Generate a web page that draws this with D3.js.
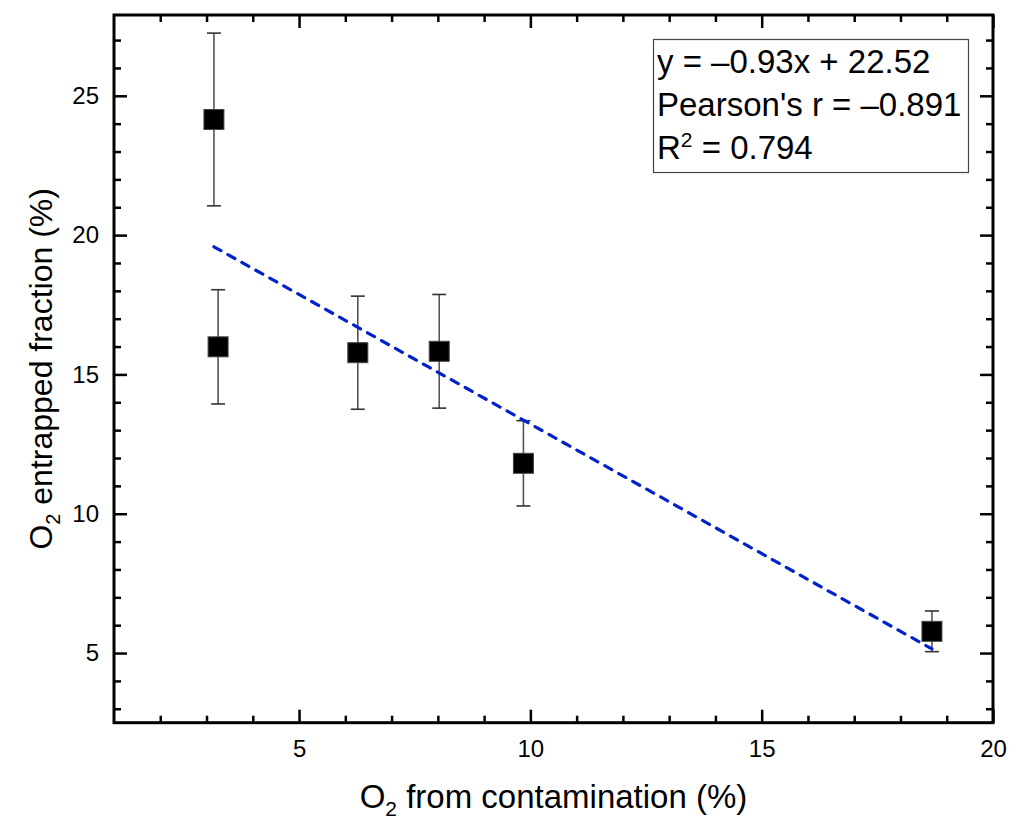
<!DOCTYPE html>
<html>
<head>
<meta charset="utf-8">
<script src="https://cdn.jsdelivr.net/npm/d3@7"></script>
<style>
  body { margin: 0; background: #fff; }
  svg { display: block; font-family: "Liberation Sans", Arial, sans-serif; }
</style>
</head>
<body>
<div id="chart"></div>
<script>
// O2 from contamination (%) vs O2 entrapped fraction (%)
const xVals = [3.16, 3.25, 6.27, 8.03, 9.85, 18.68]
const yVals = [24.15, 15.99, 15.78, 15.83, 11.81, 5.78]
const yErr = [3.1, 2.05, 2.03, 2.04, 1.53, 0.73]

const fitSlope = -0.93
const fitIntercept = 22.52
const statLines = ['y = \u20130.93x + 22.52', "Pearson's r = \u20130.891", 'R2 = 0.794']

const xTicks = [5, 10, 15, 20]
const yTicks = [5, 10, 15, 20, 25]
const xMinor = [2, 3, 4, 6, 7, 8, 9, 11, 12, 13, 14, 16, 17, 18, 19]
const yMinor = [3, 4, 6, 7, 8, 9, 11, 12, 13, 14, 16, 17, 18, 19, 21, 22, 23, 24, 26, 27]

const width = 1028, height = 839
const mLeft = 114, mRight = 993, mTop = 15, mBottom = 722.7

const x = d3.scaleLinear().domain([1, 20]).range([mLeft, mRight])
const y = d3.scaleLinear().domain([2.5, 27.9]).range([mBottom, mTop])

const svg = d3.select('#chart').append('svg')
    .attr('width', width)
    .attr('height', height)

const points = xVals.map((v, i) => ({x: v, y: yVals[i], e: yErr[i]}))

// axes: major + minor ticks on all four sides, pointing inward
function styleAxis(g) {
    g.select('.domain').remove()
    g.selectAll('.tick line').attr('stroke', '#000').attr('stroke-width', 2.5)
    g.selectAll('.tick text').attr('fill', '#000').style('font-size', '24px')
}

svg.append('g').attr('transform', `translate(0,${mBottom})`)
    .call(d3.axisBottom(x).tickValues(xTicks).tickSize(-13).tickPadding(17).tickFormat(d3.format('d')))
    .call(styleAxis)
svg.append('g').attr('transform', `translate(0,${mBottom})`)
    .call(d3.axisBottom(x).tickValues(xMinor).tickSize(-7).tickFormat(''))
    .call(styleAxis)
svg.append('g').attr('transform', `translate(0,${mTop})`)
    .call(d3.axisTop(x).tickValues(xTicks).tickSize(-13).tickFormat(''))
    .call(styleAxis)
svg.append('g').attr('transform', `translate(0,${mTop})`)
    .call(d3.axisTop(x).tickValues(xMinor).tickSize(-7).tickFormat(''))
    .call(styleAxis)

svg.append('g').attr('transform', `translate(${mLeft},0)`)
    .call(d3.axisLeft(y).tickValues(yTicks).tickSize(-13).tickPadding(15).tickFormat(d3.format('d')))
    .call(styleAxis)
svg.append('g').attr('transform', `translate(${mLeft},0)`)
    .call(d3.axisLeft(y).tickValues(yMinor).tickSize(-7).tickFormat(''))
    .call(styleAxis)
svg.append('g').attr('transform', `translate(${mRight},0)`)
    .call(d3.axisRight(y).tickValues(yTicks).tickSize(-13).tickFormat(''))
    .call(styleAxis)
svg.append('g').attr('transform', `translate(${mRight},0)`)
    .call(d3.axisRight(y).tickValues(yMinor).tickSize(-7).tickFormat(''))
    .call(styleAxis)

// frame
svg.append('rect')
    .attr('x', mLeft).attr('y', mTop)
    .attr('width', mRight - mLeft).attr('height', mBottom - mTop)
    .attr('fill', 'none').attr('stroke', '#000').attr('stroke-width', 3)

// error bars
const eb = svg.append('g')
eb.selectAll('line.stem').data(points).enter().append('line')
    .attr('class', 'stem')
    .attr('x1', d => x(d.x)).attr('x2', d => x(d.x))
    .attr('y1', d => y(d.y + d.e)).attr('y2', d => y(d.y - d.e))
    .attr('stroke', '#555').attr('stroke-width', 1.6)
eb.selectAll('line.capt').data(points).enter().append('line')
    .attr('class', 'capt')
    .attr('x1', d => x(d.x) - 7).attr('x2', d => x(d.x) + 7)
    .attr('y1', d => y(d.y + d.e)).attr('y2', d => y(d.y + d.e))
    .attr('stroke', '#333').attr('stroke-width', 1.6)
eb.selectAll('line.capb').data(points).enter().append('line')
    .attr('class', 'capb')
    .attr('x1', d => x(d.x) - 7).attr('x2', d => x(d.x) + 7)
    .attr('y1', d => y(d.y - d.e)).attr('y2', d => y(d.y - d.e))
    .attr('stroke', '#333').attr('stroke-width', 1.6)

// linear fit
const x0 = d3.min(xVals), x1 = d3.max(xVals)
svg.append('line')
    .attr('x1', x(x0)).attr('y1', y(fitSlope * x0 + fitIntercept))
    .attr('x2', x(x1)).attr('y2', y(fitSlope * x1 + fitIntercept))
    .attr('stroke', '#0022c8').attr('stroke-width', 3.2)
    .attr('stroke-dasharray', '8,8').attr('stroke-linecap', 'round')

// markers
const sq = 20
svg.append('g').selectAll('rect').data(points).enter().append('rect')
    .attr('x', d => x(d.x) - sq / 2).attr('y', d => y(d.y) - sq / 2)
    .attr('width', sq).attr('height', sq)
    .attr('fill', '#000').attr('stroke', '#444').attr('stroke-width', 1)

// stats box
svg.append('rect')
    .attr('x', 653.5).attr('y', 39.5).attr('width', 315).attr('height', 133)
    .attr('fill', '#fff').attr('stroke', '#444').attr('stroke-width', 1.2)
const stats = svg.append('g').style('font-size', '33px').attr('fill', '#000')
statLines.forEach((s, i) => {
    const t = stats.append('text').attr('x', 657).attr('y', 73 + i * 43)
    if (s.startsWith('R2')) {
        t.append('tspan').text('R')
        t.append('tspan').attr('dy', -12).style('font-size', '21px').text('2')
        t.append('tspan').attr('dy', 12).text(' = 0.794')
    } else {
        t.text(s)
    }
})

// axis titles
const xt = svg.append('text')
    .attr('x', (mLeft + mRight) / 2).attr('y', 808)
    .attr('text-anchor', 'middle').style('font-size', '33px')
xt.append('tspan').text('O')
xt.append('tspan').attr('dy', 8).style('font-size', '21px').text('2')
xt.append('tspan').attr('dy', -8).text(' from contamination (%)')

const yt = svg.append('text')
    .attr('transform', `translate(52,${(mTop + mBottom) / 2}) rotate(-90)`)
    .attr('text-anchor', 'middle').style('font-size', '32px')
yt.append('tspan').text('O')
yt.append('tspan').attr('dy', 8).style('font-size', '20px').text('2')
yt.append('tspan').attr('dy', -8).text(' entrapped fraction (%)')
</script>
</body>
</html>
